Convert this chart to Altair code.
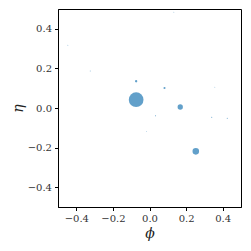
import altair as alt
import pandas as pd

phi = [-0.073, -0.073, 0.082, 0.168, 0.253, -0.446, -0.324, 0.133, 0.357, 0.033, 0.340, 0.425, -0.016]
eta = [0.042, 0.135, 0.101, 0.005, -0.219, 0.317, 0.187, 0.484, 0.105, -0.039, -0.047, -0.052, -0.118]
weight = [100, 2.5, 2.0, 13, 20, 0.3, 0.4, 0.3, 0.3, 0.5, 0.5, 0.5, 0.3]

df = pd.DataFrame({"phi": phi, "eta": eta, "w": weight})
ticks = [-0.4, -0.2, 0.0, 0.2, 0.4]
font = "DejaVu Serif"

common = dict(values=ticks, format=".1f", grid=False, labelFont=font, titleFont=font,
              labelFontSize=10, labelColor="#333", titleFontStyle="italic",
              titleFontSize=14, titleFontWeight="normal", titleColor="#222",
              tickColor="black", domainColor="black", tickSize=3.5, labelPadding=3)

chart = alt.Chart(df).mark_circle(color="#1f77b4", opacity=0.7).encode(
    x=alt.X("phi:Q", scale=alt.Scale(domain=[-0.5, 0.5], nice=False, zero=False),
            axis=alt.Axis(title="ϕ", titlePadding=3, **common)),
    y=alt.Y("eta:Q", scale=alt.Scale(domain=[-0.5, 0.5], nice=False, zero=False),
            axis=alt.Axis(title="η", titlePadding=2, titleAngle=-90, **common)),
    size=alt.Size("w:Q", scale=alt.Scale(domain=[0, 100], range=[0, 216]), legend=None),
).properties(
    width=183, height=198,
    autosize=alt.AutoSizeParams(type="none"),
    padding={"left": 50, "top": 1, "right": 2, "bottom": 36},
).configure_view(stroke="black", strokeWidth=1)

chart.save("out.html", embed_options={"renderer": "svg", "actions": False})
